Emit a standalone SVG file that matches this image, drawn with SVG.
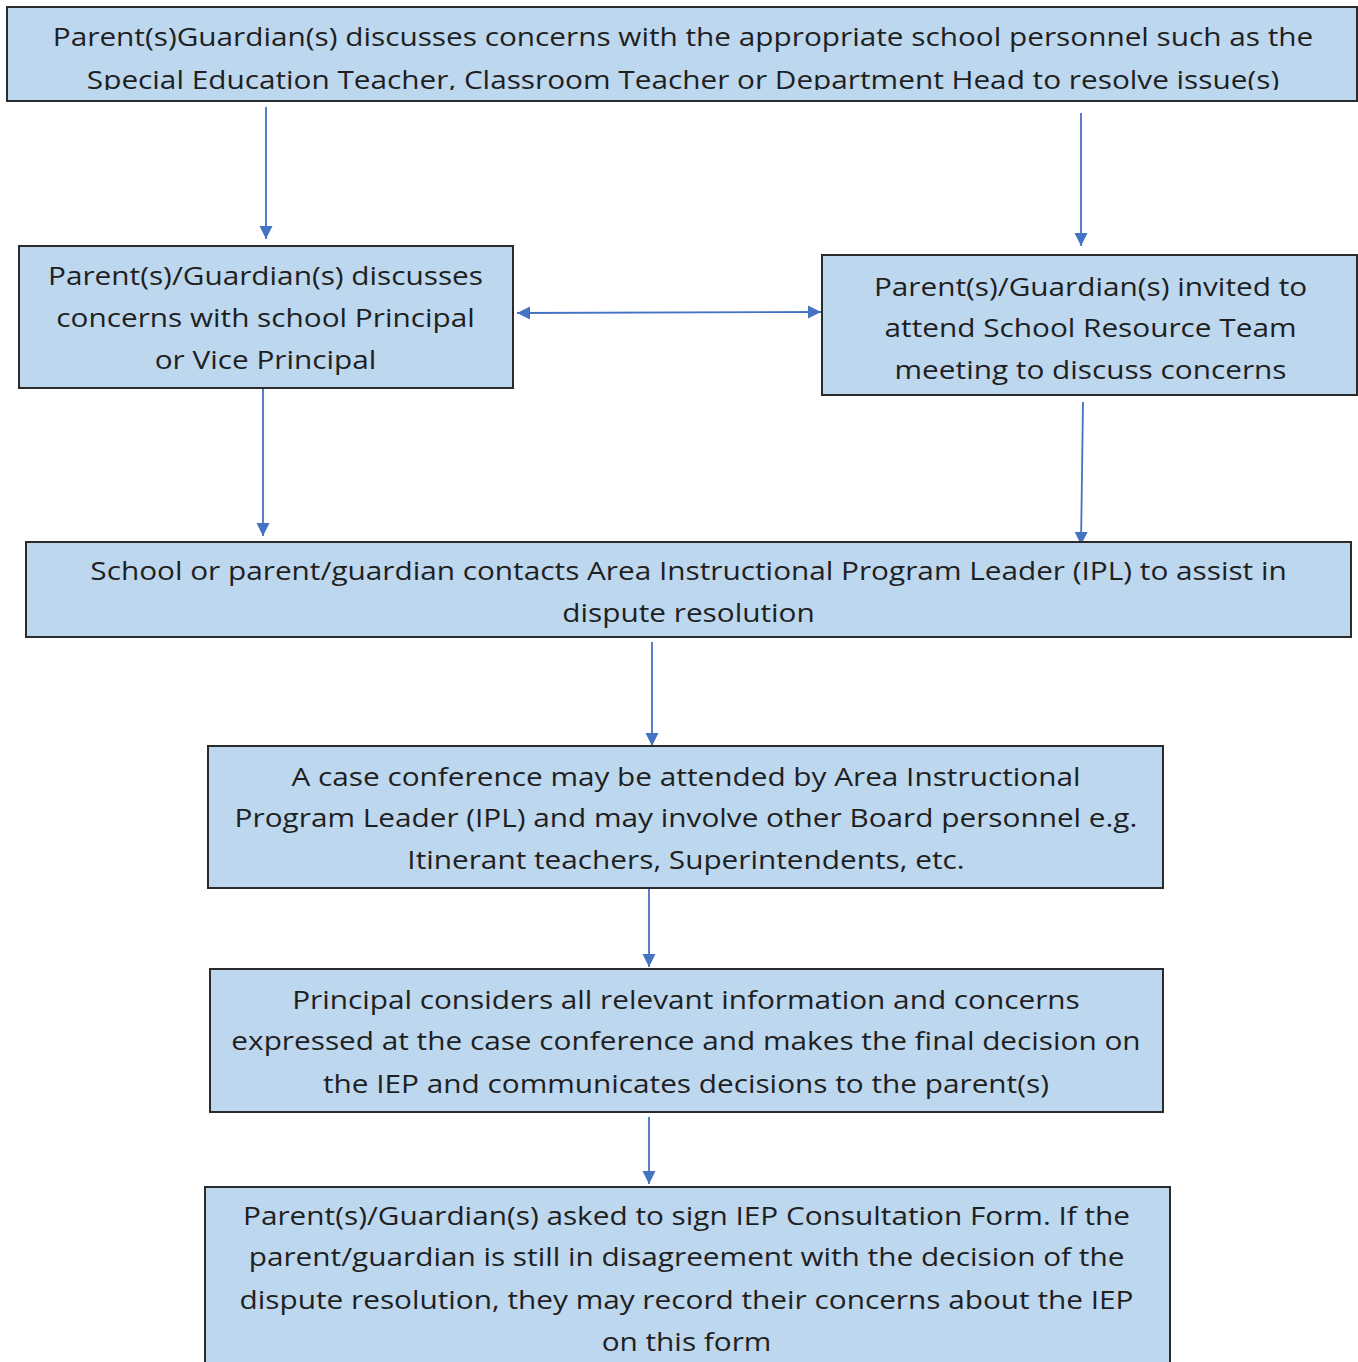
<svg xmlns="http://www.w3.org/2000/svg" width="1358" height="1362" viewBox="0 0 1358 1362">
<style>
.box{fill:#BDD7EE;stroke:#2b2b2b;stroke-width:2}
.t{font-family:"Open Sans","Noto Sans","DejaVu Sans",sans-serif;font-size:26px;fill:#1f1f1f;text-anchor:middle;dominant-baseline:central}
.c{stroke:#4472C4;stroke-width:1.8;fill:none}
</style>
<defs>
<marker id="ah" viewBox="0 0 10 10" refX="10" refY="5" markerWidth="13" markerHeight="14" markerUnits="userSpaceOnUse" orient="auto-start-reverse">
<path d="M0,0 L10,5 L0,10 z" fill="#4472C4"/>
</marker>
<clipPath id="c1"><rect x="7" y="7" width="1350" height="83"/></clipPath>
</defs>
<rect width="1358" height="1362" fill="#ffffff"/>
<g id="connectors">
<line class="c" x1="266" y1="107" x2="266" y2="239" marker-end="url(#ah)"/>
<line class="c" x1="1081" y1="113" x2="1081" y2="246" marker-end="url(#ah)"/>
<line class="c" x1="517" y1="313" x2="821" y2="312" marker-start="url(#ah)" marker-end="url(#ah)"/>
<line class="c" x1="263" y1="389" x2="263" y2="536" marker-end="url(#ah)"/>
<line class="c" x1="1083" y1="402" x2="1081" y2="545" marker-end="url(#ah)"/>
<line class="c" x1="652" y1="642" x2="652" y2="746" marker-end="url(#ah)"/>
<line class="c" x1="649" y1="889" x2="649" y2="967" marker-end="url(#ah)"/>
<line class="c" x1="649" y1="1117" x2="649" y2="1184" marker-end="url(#ah)"/>
</g>
<g id="n1">
<rect class="box" x="7" y="7" width="1350" height="94"/>
<g clip-path="url(#c1)">
<g transform="matrix(1.145 0 0 1 -99 0)">
<text class="t" x="683" y="36">Parent(s)Guardian(s) discusses concerns with the appropriate school personnel such as the</text>
<text class="t" x="683" y="79">Special Education Teacher, Classroom Teacher or Department Head to resolve issue(s)</text>
</g>
</g>
</g>
<g id="n2">
<rect class="box" x="19" y="246" width="494" height="142"/>
<g transform="matrix(1.145 0 0 1 -38.5 0)">
<text class="t" x="265.5" y="275">Parent(s)/Guardian(s) discusses</text>
<text class="t" x="265.5" y="317">concerns with school Principal</text>
<text class="t" x="265.5" y="359">or Vice Principal</text>
</g>
</g>
<g id="n3">
<rect class="box" x="822" y="255" width="535" height="140"/>
<g transform="matrix(1.145 0 0 1 -158.1 0)">
<text class="t" x="1090.5" y="286">Parent(s)/Guardian(s) invited to</text>
<text class="t" x="1090.5" y="327">attend School Resource Team</text>
<text class="t" x="1090.5" y="369">meeting to discuss concerns</text>
</g>
</g>
<g id="n4">
<rect class="box" x="26" y="542" width="1325" height="95"/>
<g transform="matrix(1.145 0 0 1 -99.8 0)">
<text class="t" x="688.5" y="570">School or parent/guardian contacts Area Instructional Program Leader (IPL) to assist in</text>
<text class="t" x="688.5" y="612">dispute resolution</text>
</g>
</g>
<g id="n5">
<rect class="box" x="208" y="746" width="955" height="142"/>
<g transform="matrix(1.145 0 0 1 -99.5 0)">
<text class="t" x="686" y="776">A case conference may be attended by Area Instructional</text>
<text class="t" x="686" y="817">Program Leader (IPL) and may involve other Board personnel e.g.</text>
<text class="t" x="686" y="859">Itinerant teachers, Superintendents, etc.</text>
</g>
</g>
<g id="n6">
<rect class="box" x="210" y="969" width="953" height="143"/>
<g transform="matrix(1.145 0 0 1 -99.5 0)">
<text class="t" x="686" y="999">Principal considers all relevant information and concerns</text>
<text class="t" x="686" y="1040">expressed at the case conference and makes the final decision on</text>
<text class="t" x="686" y="1083">the IEP and communicates decisions to the parent(s)</text>
</g>
</g>
<g id="n7">
<rect class="box" x="205" y="1187" width="965" height="190"/>
<g transform="matrix(1.145 0 0 1 -99.5 0)">
<text class="t" x="686.5" y="1215">Parent(s)/Guardian(s) asked to sign IEP Consultation Form. If the</text>
<text class="t" x="686.5" y="1256">parent/guardian is still in disagreement with the decision of the</text>
<text class="t" x="686.5" y="1299">dispute resolution, they may record their concerns about the IEP</text>
<text class="t" x="686.5" y="1341">on this form</text>
</g>
</g>
</svg>
